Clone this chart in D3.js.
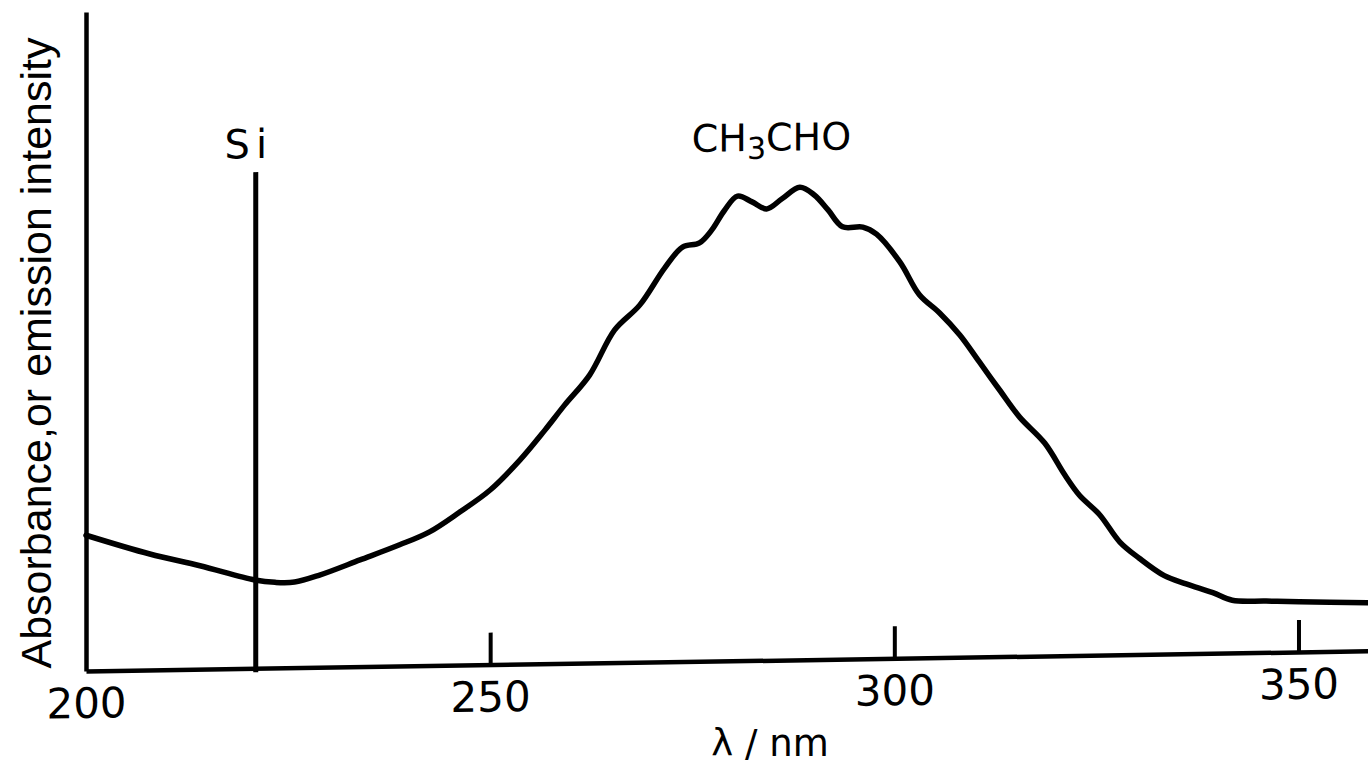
<!DOCTYPE html>
<html lang="en">
<head>
    <meta charset="UTF-8">
    <title>CH3CHO absorbance and Si emission line</title>
    <script src="https://d3js.org/d3.v7.min.js"></script>
    <style>
        body { margin: 0; background: #fff; }
        svg { display: block; font-family: "DejaVu Sans", "Liberation Sans", sans-serif; }
        .curve { fill: none; stroke: #000; stroke-width: 5.5px; stroke-linejoin: round; stroke-linecap: round; }
        .si-line { stroke: #000; stroke-width: 5px; }
        .y-title { font-family: "Liberation Sans", Arial, sans-serif; }
    </style>
</head>
<body>
    <svg width="1368" height="769"></svg>
    <script>
        const width = 1368;
        const height = 769;

        // wavelength (nm) of the traced CH3CHO spectrum
        const wavelengths = [
            200, 207.9, 214.1, 220.9, 223.4, 225.8, 228.9, 233.9, 238.8, 242.5,
            246.2, 250, 253.7, 256.8, 259.2, 262.3, 265.4, 268.5, 271.6, 273.8,
            275.9, 277.4, 279.0, 280.6, 282.4, 284.2, 286.1, 288.3, 290.1, 291.8,
            293.6, 296.1, 297.8, 300.7, 303.1, 305.6, 308.1, 310.5, 313.0, 315.5,
            318.6, 321.1, 322.9, 325.4, 327.9, 330.3, 333.4, 336.1, 339.4, 341.8,
            346.0, 350.1, 358.5
        ];
        // absorbance (arbitrary units, 0 = baseline, 100 = top of axis)
        const absorbance = [
            20.6, 17.6, 15.7, 13.4, 13.0, 13.0, 14.0, 16.2, 18.4, 20.3,
            23.2, 26.5, 31.0, 35.5, 39.2, 43.7, 50.5, 54.2, 59.8, 62.9,
            63.5, 65.4, 68.4, 70.5, 69.6, 68.5, 70.0, 71.7, 70.5, 68.2,
            65.6, 65.5, 64.4, 60.1, 55.1, 52.3, 48.9, 44.8, 40.5, 36.3,
            32.3, 27.4, 24.3, 21.3, 17.1, 14.6, 11.9, 10.6, 9.2, 8.0,
            7.8, 7.6, 7.3
        ];
        const xTicks = [200, 250, 300, 350];
        const siWavelength = 221;
        const siHeight = 75.3;

        const margin = {left: 86, bottom: 98};
        const plotW = width - margin.left;
        const plotH = 659;

        const svg = d3.select("svg");

        const x = d3.scaleLinear().domain([200, 358.6]).range([0, plotW]);
        const y = d3.scaleLinear().domain([0, 100]).range([0, -plotH]);

        // scanned figure is slightly tilted, so the plot sits in a skewed group
        const g = svg.append("g")
            .attr("transform", `translate(${margin.left},${height - margin.bottom}) skewY(-0.9)`);

        // x axis, ticks pointing up into the plot
        const xAxis = g.append("g")
            .call(d3.axisBottom(x).tickValues(xTicks).tickSizeInner(-32).tickSizeOuter(0).tickPadding(17).tickFormat(d3.format("d")))
            .attr("font-family", null)
            .attr("font-size", null);
        xAxis.select(".domain").attr("stroke-width", 4.5);
        xAxis.selectAll(".tick line").attr("stroke-width", 4);
        xAxis.selectAll(".tick").filter(d => d === 200).select("line").remove();
        xAxis.selectAll(".tick text").style("font-size", "42px").attr("fill", "#000");

        // y axis: plain line, no ticks
        const yAxis = g.append("g")
            .call(d3.axisLeft(y).tickValues([]).tickSizeOuter(0));
        yAxis.select(".domain").attr("stroke-width", 4.5);

        // spectrum
        const points = wavelengths.map((w, i) => [w, absorbance[i]]);
        const line = d3.line()
            .x(d => x(d[0]))
            .y(d => y(d[1]))
            .curve(d3.curveCatmullRom.alpha(0.5));
        g.append("path")
            .datum(points)
            .attr("class", "curve")
            .attr("d", line);

        // Si emission line
        g.append("line")
            .attr("class", "si-line")
            .attr("x1", x(siWavelength)).attr("x2", x(siWavelength))
            .attr("y1", y(-0.6)).attr("y2", y(siHeight));

        g.append("text")
            .attr("x", x(siWavelength) - 7)
            .attr("y", y(siHeight) - 14)
            .attr("text-anchor", "middle")
            .style("font-size", "40px")
            .style("letter-spacing", "6px")
            .text("Si");

        // CH3CHO label above the band
        const peak = d3.max(absorbance);
        const chLabel = g.append("text")
            .attr("x", x(284.8))
            .attr("y", y(peak) - 37)
            .attr("text-anchor", "middle")
            .style("font-size", "38px");
        chLabel.append("tspan").text("CH");
        chLabel.append("tspan").attr("dy", 8).style("font-size", "30px").text("3");
        chLabel.append("tspan").attr("dy", -8).text("CHO");

        // axis titles
        svg.append("text")
            .attr("x", 770)
            .attr("y", 756)
            .attr("text-anchor", "middle")
            .style("font-size", "37px")
            .text("λ / nm");

        svg.append("text")
            .attr("class", "y-title")
            .attr("transform", "translate(51,353) rotate(-90)")
            .attr("text-anchor", "middle")
            .style("font-size", "43px")
            .text("Absorbance,or emission intensity");
    </script>
</body>
</html>
